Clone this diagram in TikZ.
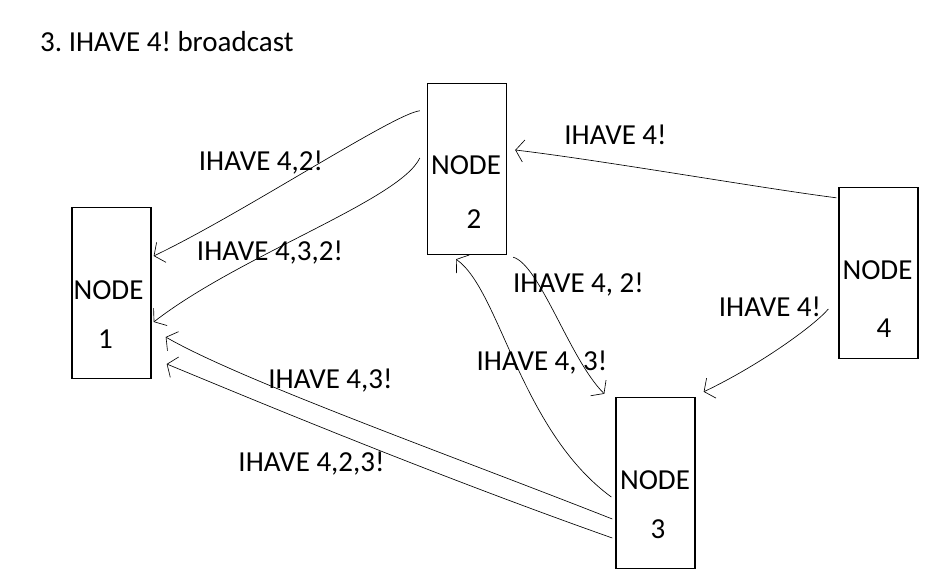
\documentclass[tikz,border=0pt]{standalone}
\usepackage{fontspec}
\setmainfont{Carlito}
\usetikzlibrary{arrows.meta,calc}
\frenchspacing

\tikzset{
  box/.style={draw, line width=1.4pt, minimum width=79pt, minimum height=171pt, inner sep=0pt},
  txt/.style={anchor=base, inner sep=0pt, font=\fontsize{29}{31}\selectfont},
  msg/.style={-{Straight Barb[length=8pt,width=22pt]}, line width=0.65pt}
}

\begin{document}
\begin{tikzpicture}[x=1pt, y=-1pt]
\useasboundingbox (0,0) rectangle (936,580);

% Title
\node[txt, anchor=base west] (title) at (40,52) {3. IHAVE 4! broadcast};

% Nodes
\node[box] (n1) at (111.5,293) {};
\node[box] (n2) at (467,169) {};
\node[box] (n3) at (655.5,483) {};
\node[box] (n4) at (878.5,273) {};

\node[txt] (n1a) at (108.5,299) {NODE};
\node[txt] (n1b) at (105.5,348) {1};
\node[txt] (n2a) at (466,175) {NODE};
\node[txt] (n2b) at (474,228) {2};
\node[txt] (n3a) at (655,489) {NODE};
\node[txt] (n3b) at (658,538) {3};
\node[txt] (n4a) at (877.5,279) {NODE};
\node[txt] (n4b) at (884,337) {4};

% Messages
\draw[msg] ($(n2.north west)+(-7,28)$) .. controls (395,113) and (240,215) .. ($(n1.east)+(2,-37)$);
\draw[msg] ($(n2.west)+(-7,-11)$) .. controls (400,200) and (240,255) .. ($(n1.east)+(2,29)$);
\draw[msg] ($(n4.north west)+(-2,11)$) .. controls (760,188) and (600,160) .. ($(n2.east)+(8,-19)$);
\draw[msg] ($(n4.west)+(-10,36)$) .. controls (815,325) and (760,365) .. ($(n3.north east)+(8,-5)$);
\draw[msg] ($(n2.south east)+(6,2)$) .. controls (540,265) and (570,360) .. ($(n3.north west)+(-11,-3)$);
\draw[msg] ($(n3.west)+(-4,14)$) .. controls (520,430) and (500,290) .. ($(n2.south)+(-11,4)$);
\draw[msg] ($(n3.west)+(-3,36)$) .. controls (450,455) and (240,380) .. ($(n1.east)+(14,44)$);
\draw[msg] ($(n3.west)+(-3,55)$) .. controls (420,470) and (230,390) .. ($(n1.east)+(15,71)$);

% Labels
\node[txt] (m1) at (261,171) {IHAVE 4,2!};
\node[txt] (m2) at (270,260) {IHAVE 4,3,2!};
\node[txt] (m3) at (615.5,145) {IHAVE 4!};
\node[txt] (m4) at (578.5,292) {IHAVE 4, 2!};
\node[txt] (m5) at (770,316) {IHAVE 4!};
\node[txt] (m6) at (542,370) {IHAVE 4, 3!};
\node[txt] (m7) at (330.5,388) {IHAVE 4,3!};
\node[txt] (m8) at (311.5,471) {IHAVE 4,2,3!};

\end{tikzpicture}
\end{document}
